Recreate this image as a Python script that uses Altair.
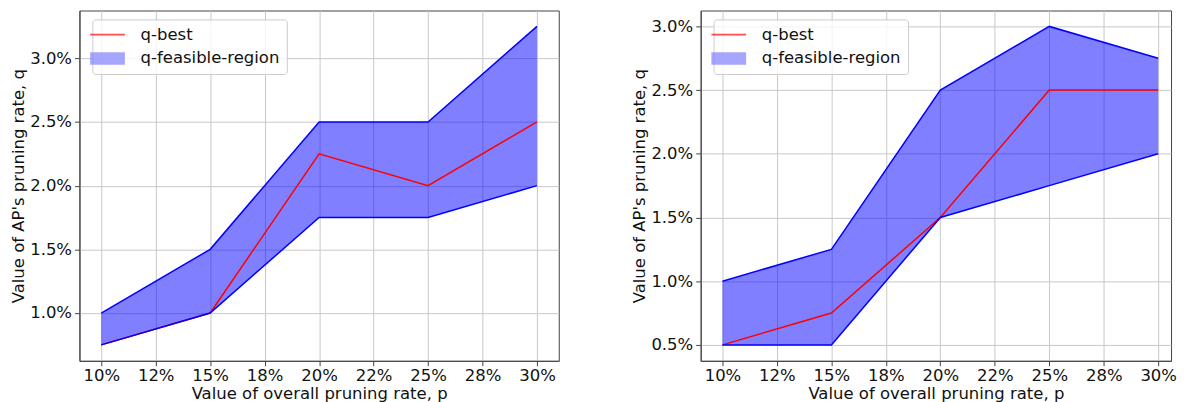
import json
import altair as alt
import pandas as pd

# ---- data ----
P = [10, 15, 20, 25, 30]

LEFT_LOWER = [0.75, 1.0, 1.75, 1.75, 2.0]
LEFT_UPPER = [1.0, 1.5, 2.5, 2.5, 3.25]
LEFT_BEST = [0.75, 1.0, 2.25, 2.0, 2.5]

RIGHT_LOWER = [0.5, 0.5, 1.5, 1.75, 2.0]
RIGHT_UPPER = [1.0, 1.25, 2.5, 3.0, 2.75]
RIGHT_BEST = [0.5, 0.75, 1.5, 2.5, 2.5]

X_TICKS = [10, 12.5, 15, 17.5, 20, 22.5, 25, 27.5, 30]
X_TICK_LABELS = ["10%", "12%", "15%", "18%", "20%", "22%", "25%", "28%", "30%"]
LEFT_Y_TICKS = [1.0, 1.5, 2.0, 2.5, 3.0]
RIGHT_Y_TICKS = [0.5, 1.0, 1.5, 2.0, 2.5, 3.0]

SERIES = ["q-best", "q-feasible-region"]

FONT = "DejaVu Sans"
FS = 16.6
LINE_PATH = "M-2.5,-0.11L2.5,-0.11L2.5,0.11L-2.5,0.11Z"
RECT_PATH = "M-2.5,-0.9L2.5,-0.9L2.5,0.9L-2.5,0.9Z"

x_lo, x_hi = min(P), max(P)
x_m = 0.05 * (x_hi - x_lo)

x_label_expr = f"{json.dumps(X_TICK_LABELS)}[indexof({json.dumps(X_TICKS)}, datum.value)]"

LEFT_W, RIGHT_W, H = 483, 474, 353
PX_PER_UNIT = LEFT_W / (x_hi - x_lo + 2 * x_m)


def panel(lower, upper, best, yticks, width, height):
    lo, hi = min(lower), max(upper)
    m = 0.05 * (hi - lo)
    y_domain = [lo - m, hi + m]
    # right panel is cut off by the page edge in the reference: keep the same px-per-unit
    x_domain = [x_lo - x_m, x_lo - x_m + width / PX_PER_UNIT]
    df = pd.DataFrame({"p": P, "lower": lower, "upper": upper, "best": best})

    x_enc = alt.X(
        "p:Q",
        scale=alt.Scale(domain=x_domain, nice=False, zero=False),
        axis=alt.Axis(
            values=X_TICKS,
            labelExpr=x_label_expr,
            title="Value of overall pruning rate, p",
        ),
    )
    y_scale = alt.Scale(domain=y_domain, nice=False, zero=False)
    y_axis = alt.Axis(
        values=yticks,
        labelExpr="format(datum.value, '.1f') + '%'",
        title="Value of AP's pruning rate, q",
    )

    base = alt.Chart(df)
    area = base.mark_area(color="#0000ff", opacity=0.5).encode(
        x=x_enc, y=alt.Y("lower:Q", scale=y_scale, axis=y_axis), y2="upper:Q"
    )
    best_line = base.mark_line(color="#ff0000", strokeWidth=1.5).encode(
        x="p:Q", y="best:Q"
    )
    low_line = base.mark_line(color="#0000ff", strokeWidth=1.5).encode(
        x="p:Q", y="lower:Q"
    )
    up_line = base.mark_line(color="#0000ff", strokeWidth=1.5).encode(
        x="p:Q", y="upper:Q"
    )

    leg = alt.Legend(
        title=None,
        orient="none",
        legendX=13,
        legendY=9,
        symbolSize=196,
        labelOffset=25,
        labelFontSize=FS,
        labelFont=FONT,
        labelColor="#111111",
        fillColor="rgba(255,255,255,0.8)",
        strokeColor="#cccccc",
        cornerRadius=3,
        padding=7,
        rowPadding=7,
        symbolStrokeWidth=0,
    )
    leg_df = pd.DataFrame({"series": SERIES, "p": [None, None], "best": [None, None]})
    legend_layer = (
        alt.Chart(leg_df)
        .mark_point(filled=True, clip=True)
        .encode(
            x="p:Q",
            y="best:Q",
            color=alt.Color(
                "series:N",
                scale=alt.Scale(domain=SERIES, range=["#ff0000", "#8080ff"]),
                legend=leg,
            ),
            shape=alt.Shape(
                "series:N",
                scale=alt.Scale(domain=SERIES, range=[LINE_PATH, RECT_PATH]),
                legend=leg,
            ),
        )
    )
    return alt.layer(area, best_line, low_line, up_line, legend_layer).properties(
        width=width, height=height
    )


left = panel(LEFT_LOWER, LEFT_UPPER, LEFT_BEST, LEFT_Y_TICKS, LEFT_W, H)
right = panel(RIGHT_LOWER, RIGHT_UPPER, RIGHT_BEST, RIGHT_Y_TICKS, RIGHT_W, H)

chart = (
    alt.hconcat(left, right, spacing=72)
    .resolve_scale(color="independent", shape="independent", x="independent", y="independent")
    .resolve_legend(color="independent", shape="independent")
    .properties(padding={"left": 2, "top": 0, "right": 0, "bottom": 0})
    .configure(font=FONT)
    .configure_view(stroke="#444444", strokeWidth=1)
    .configure_axis(
        labelFont=FONT,
        titleFont=FONT,
        labelFontSize=FS,
        titleFontSize=FS,
        titleFontWeight="normal",
        labelColor="#111111",
        titleColor="#111111",
        gridColor="#c8c8c8",
        gridWidth=1,
        domainColor="#444444",
        tickColor="#444444",
        tickSize=5,
    )
    .configure_axisX(titlePadding=1, labelPadding=2)
    .configure_axisY(titlePadding=3, labelPadding=3)
)

chart.save("out.html", embed_options={"renderer": "svg", "actions": False})
